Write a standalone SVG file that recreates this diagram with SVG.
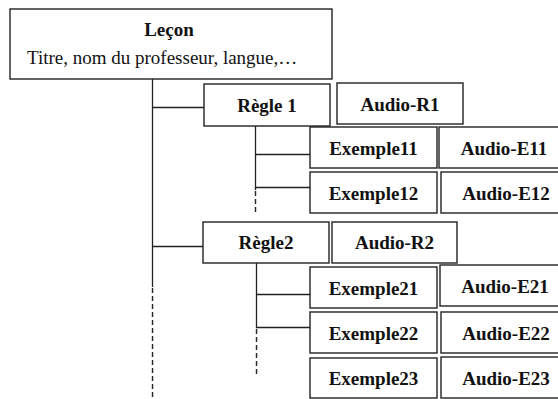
<svg xmlns="http://www.w3.org/2000/svg" width="558" height="399" viewBox="0 0 558 399">
  <style>
    .box { fill: #fff; stroke: #222; stroke-width: 1.4; }
    .lbl { font-family: "Liberation Serif", "Times New Roman", serif; font-size: 19px; font-weight: bold; fill: #111; text-anchor: middle; }
    .sub { font-family: "Liberation Serif", "Times New Roman", serif; font-size: 19px; fill: #111; }
    .ln { stroke: #222; stroke-width: 1.3; fill: none; }
    .dash { stroke: #222; stroke-width: 1.4; fill: none; stroke-dasharray: 5 3; }
  </style>
  <rect width="558" height="399" fill="#fff"/>

  <!-- tree connectors -->
  <g id="connectors">
    <line class="ln" x1="152.5" y1="79" x2="152.5" y2="287"/>
    <line class="dash" x1="152.5" y1="288" x2="152.5" y2="399"/>
    <line class="ln" x1="152" y1="107.5" x2="204" y2="107.5"/>
    <line class="ln" x1="152" y1="246.5" x2="203" y2="246.5"/>
    <line class="ln" x1="255.5" y1="126" x2="255.5" y2="190"/>
    <line class="dash" x1="255.5" y1="191" x2="255.5" y2="215"/>
    <line class="ln" x1="255.5" y1="154.5" x2="310" y2="154.5"/>
    <line class="ln" x1="255.5" y1="187.5" x2="310" y2="187.5"/>
    <line class="ln" x1="256.5" y1="263" x2="256.5" y2="328"/>
    <line class="dash" x1="256.5" y1="329" x2="256.5" y2="374"/>
    <line class="ln" x1="256" y1="294.5" x2="310" y2="294.5"/>
    <line class="ln" x1="256" y1="327.5" x2="310" y2="327.5"/>
  </g>

  <g id="lecon">
    <rect class="box" x="10" y="9" width="322" height="70"/>
    <text class="lbl" x="169" y="36">Leçon</text>
    <text class="sub" x="27" y="64">Titre, nom du professeur, langue,…</text>
  </g>

  <g id="regle1">
    <rect class="box" x="204" y="84" width="126" height="42"/>
    <text class="lbl" x="267" y="112">Règle 1</text>
  </g>
  <g id="audio-r1">
    <rect class="box" x="337" y="83" width="126" height="41"/>
    <text class="lbl" x="400" y="111">Audio-R1</text>
  </g>

  <g id="exemple11">
    <rect class="box" x="310" y="127" width="127" height="41"/>
    <text class="lbl" x="373.5" y="155">Exemple11</text>
  </g>
  <g id="audio-e11">
    <rect class="box" x="439" y="127" width="130" height="41"/>
    <text class="lbl" x="504" y="155">Audio-E11</text>
  </g>
  <g id="exemple12">
    <rect class="box" x="310" y="172" width="127" height="41"/>
    <text class="lbl" x="373.5" y="200">Exemple12</text>
  </g>
  <g id="audio-e12">
    <rect class="box" x="441" y="172" width="130" height="41"/>
    <text class="lbl" x="506" y="200">Audio-E12</text>
  </g>

  <g id="regle2">
    <rect class="box" x="203" y="222" width="126" height="41"/>
    <text class="lbl" x="266" y="249">Règle2</text>
  </g>
  <g id="audio-r2">
    <rect class="box" x="332" y="222" width="125" height="41"/>
    <text class="lbl" x="394.5" y="249">Audio-R2</text>
  </g>

  <g id="exemple21">
    <rect class="box" x="310" y="267" width="127" height="41"/>
    <text class="lbl" x="373.5" y="295">Exemple21</text>
  </g>
  <g id="audio-e21">
    <rect class="box" x="440" y="265" width="130" height="41"/>
    <text class="lbl" x="505" y="293">Audio-E21</text>
  </g>
  <g id="exemple22">
    <rect class="box" x="310" y="312" width="127" height="41"/>
    <text class="lbl" x="373.5" y="340">Exemple22</text>
  </g>
  <g id="audio-e22">
    <rect class="box" x="441" y="312" width="130" height="41"/>
    <text class="lbl" x="506" y="340">Audio-E22</text>
  </g>
  <g id="exemple23">
    <rect class="box" x="310" y="358" width="127" height="40"/>
    <text class="lbl" x="373.5" y="385">Exemple23</text>
  </g>
  <g id="audio-e23">
    <rect class="box" x="441" y="357" width="130" height="41"/>
    <text class="lbl" x="506" y="385">Audio-E23</text>
  </g>
</svg>
